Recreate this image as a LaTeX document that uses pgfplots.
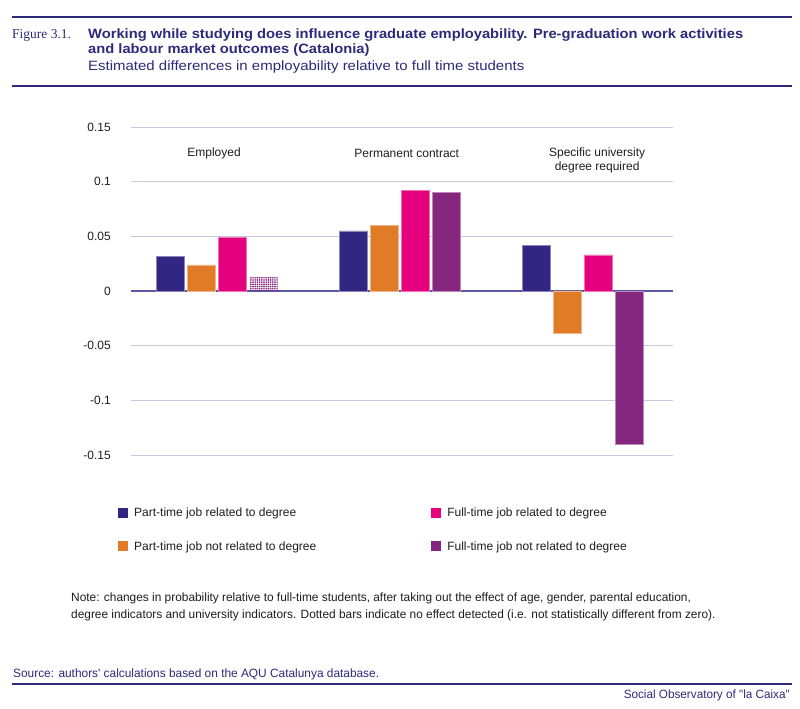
\documentclass[border=0pt]{standalone}
\usepackage{fontspec}
\setmainfont{Liberation Sans}
\newfontfamily\titlef[FakeStretch=1.09]{Liberation Sans}
\newfontfamily\subf[FakeStretch=1.11]{Liberation Sans}
\newfontfamily\notef[FakeStretch=0.99]{Liberation Sans}
\newfontfamily\socf[FakeStretch=0.977]{Liberation Sans}
\newfontfamily\serifc{Liberation Serif}
\usepackage{pgfplots}
\pgfplotsset{compat=1.18}
\usetikzlibrary{patterns.meta}
\definecolor{navy}{HTML}{2D2A7B}
\definecolor{cblue}{HTML}{312782}
\definecolor{corange}{HTML}{E07C28}
\definecolor{cpink}{HTML}{E5007D}
\definecolor{cpurple}{HTML}{85267F}
\definecolor{gridc}{HTML}{CAC6DF}
\definecolor{zeroc}{HTML}{5C58A8}
\definecolor{txt}{HTML}{1E1E1E}
\begin{document}
\begin{tikzpicture}[x=1pt,y=1pt]
\useasboundingbox (0,0) rectangle (800,709);
\fill[white] (0,0) rectangle (800,709);
% header
\draw[navy, line width=2.4pt] (12,692) -- (792,692);
\node[anchor=base west, inner sep=0pt, text=navy, font=\serifc\fontsize{13.5}{15}\selectfont] at (12,670.5) {Figure 3.1.};
\node[anchor=base west, inner sep=0pt, text=navy, font=\titlef\bfseries\fontsize{13.5}{15}\selectfont] at (88,670.5) {Working while studying does influence graduate employability. Pre-graduation work activities};
\node[anchor=base west, inner sep=0pt, text=navy, font=\titlef\bfseries\fontsize{13.5}{15}\selectfont] at (88,655) {and labour market outcomes (Catalonia)};
\node[anchor=base west, inner sep=0pt, text=navy, font=\subf\fontsize{13.5}{15}\selectfont] at (88,638.5) {Estimated differences in employability relative to full time students};
\draw[navy, line width=2pt] (12,623) -- (792,623);
% footer
\node[anchor=base west, inner sep=0pt, text=txt, font=\notef\fontsize{12}{14}\selectfont] at (71,107) {Note: changes in probability relative to full-time students, after taking out the effect of age, gender, parental education,};
\node[anchor=base west, inner sep=0pt, text=txt, font=\notef\fontsize{12}{14}\selectfont] at (71,90) {degree indicators and university indicators. Dotted bars indicate no effect detected (i.e. not statistically different from zero).};
\node[anchor=base west, inner sep=0pt, text=navy, font=\notef\fontsize{12}{14}\selectfont] at (13,31) {Source: authors' calculations based on the AQU Catalunya database.};
\draw[navy, line width=2pt] (12,25) -- (792,25);
\node[anchor=base east, inner sep=0pt, text=navy, font=\socf\fontsize{12}{14}\selectfont] at (790,10) {Social Observatory of "la Caixa"};
\begin{axis}[
  at={(131pt,254pt)}, anchor=south west,
  scale only axis, width=542pt, height=328pt,
  xmin=-0.4706, xmax=2.495, ymin=-0.15, ymax=0.15,
  axis line style={draw=none},
  xtick=\empty,
  ytick={-0.15,-0.1,-0.05,0.05,0.1,0.15},
  yticklabels={-0.15,-0.1,-0.05,0.05,0.1,0.15},
  extra y ticks={0}, extra y tick labels={0},
  extra y tick style={grid style={zeroc, line width=1.2pt}},
  major tick length=0pt,
  ymajorgrids,
  grid style={gridc, line width=0.9pt},
  yticklabel style={font=\fontsize{12}{14}\selectfont, text=txt, inner sep=0pt, xshift=-20pt},
  mybar/.style={ybar, bar width=28pt, legend image code/.code={\fill[##1, draw=none] (0pt,-5pt) rectangle (10pt,5pt); \path[draw=none, fill=none] (14pt,0pt) circle (0pt);}},
  legend style={at={(-0.024,-0.1555)}, anchor=north west, draw=none, fill=none, inner sep=0pt,
    legend columns=2, font=\fontsize{12}{14}\selectfont, text=txt, row sep=19pt,
    cells={anchor=west}, /tikz/every even column/.append style={column sep=113pt}},
  transpose legend,
  clip=false,
]
\addplot[mybar, bar shift=-46.5pt, fill=cblue, draw=cblue!55!white, line width=0.5pt] coordinates {(0,0.032) (1,0.055) (2,0.042)};
\addlegendentry{Part-time job related to degree}
\addplot[mybar, bar shift=-15.5pt, fill=corange, draw=corange!55!white, line width=0.5pt] coordinates {(0,0.024) (1,0.060) (2,-0.039)};
\addlegendentry{Part-time job not related to degree}
\addplot[mybar, bar shift=15.5pt, fill=cpink, draw=cpink!55!white, line width=0.5pt] coordinates {(0,0.049) (1,0.092) (2,0.033)};
\addlegendentry{Full-time job related to degree}
\addplot[mybar, bar shift=46.5pt, fill=cpurple, draw=cpurple!55!white, line width=0.5pt] coordinates {(1,0.090) (2,-0.140)};
\addlegendentry{Full-time job not related to degree}
\addplot[ybar, bar width=28pt, bar shift=46.5pt, draw=none, pattern={Dots[distance=2.2pt,radius=0.95pt]}, pattern color=cpurple, forget plot] coordinates {(0,0.013)};
\node[font=\fontsize{12}{14}\selectfont, text=txt] at (axis cs:-0.016,0.1257) {Employed};
\node[font=\fontsize{12}{14}\selectfont, text=txt] at (axis cs:1.038,0.1257) {Permanent contract};
\node[font=\fontsize{12}{14}\selectfont, text=txt, align=center] at (axis cs:2.08,0.119) {Specific university\\degree required};
\end{axis}
\end{tikzpicture}
\end{document}
